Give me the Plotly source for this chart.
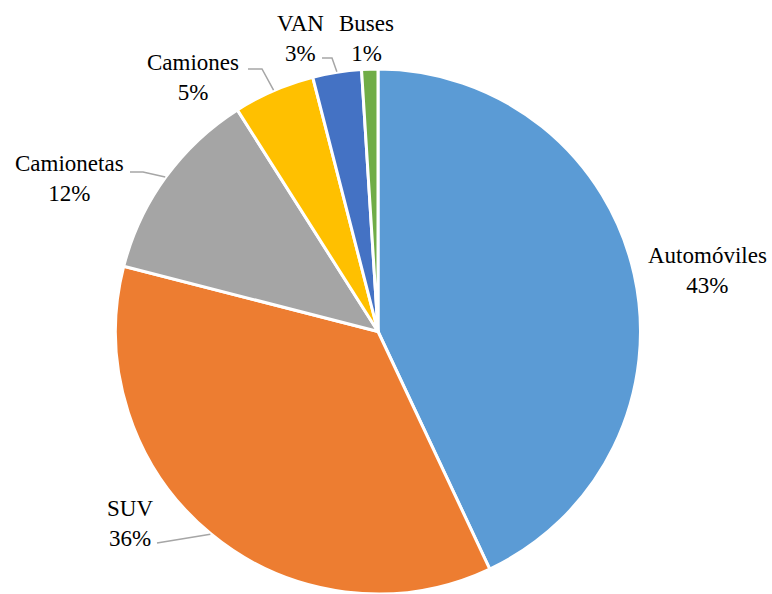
import math
import plotly.graph_objects as go

categories = ["Automóviles", "SUV", "Camionetas", "Camiones", "VAN", "Buses"]
values = [43, 36, 12, 5, 3, 1]
colors = ["#5B9BD5", "#ED7D31", "#A5A5A5", "#FFC000", "#4472C4", "#70AD47"]

W, H = 772, 594
# pie domain in pixels (left, right, top, bottom)
DX0, DX1, DY0, DY1 = 111, 645, 69, 594
CX = (DX0 + DX1) / 2
CY = (DY0 + DY1) / 2
R = 263

# label centres (px) and leader points (px)
label_pos = [(707, 270), (130, 523), (69, 178), (193, 78), (300, 38), (366, 38)]
leader_start = [None, (157, 543), (130, 172), (248, 69), (322, 58), None]
leader_elbow = [None, None, (143, 172), (262, 69), (332, 58), None]

FONT = "Liberation Serif, Times New Roman, serif"

def px(x):
    return x / W

def py(y):
    return 1 - y / H

fig = go.Figure(go.Pie(
    labels=categories,
    values=values,
    sort=False,
    direction="clockwise",
    rotation=0,
    marker=dict(colors=colors, line=dict(color="white", width=3)),
    textinfo="none",
    hoverinfo="label+percent",
    domain=dict(x=[px(DX0), px(DX1)], y=[py(DY1), py(DY0)]),
    showlegend=False,
))

total = sum(values)
cum = 0
shapes = []
annotations = []
for i, (cat, v) in enumerate(zip(categories, values)):
    mid = (cum + v / 2) / total * 2 * math.pi
    cum += v
    ex = CX + R * math.sin(mid)
    ey = CY - R * math.cos(mid)
    lx, ly = label_pos[i]
    annotations.append(dict(
        x=px(lx), y=py(ly), xref="paper", yref="paper",
        text=f"{cat}<br>{round(v / total * 100)}%",
        showarrow=False, xanchor="center", yanchor="middle",
        font=dict(family=FONT, size=23, color="#000000"),
    ))
    if leader_start[i] is not None:
        pts = [leader_start[i]]
        if leader_elbow[i] is not None:
            pts.append(leader_elbow[i])
        pts.append((ex, ey))
        path = "M " + " L ".join(f"{px(a)},{py(b)}" for a, b in pts)
        shapes.append(dict(type="path", path=path, xref="paper", yref="paper",
                           line=dict(color="#A6A6A6", width=1.5)))

fig.update_layout(
    width=W, height=H,
    margin=dict(l=0, r=0, t=0, b=0),
    paper_bgcolor="white",
    plot_bgcolor="white",
    font=dict(family=FONT, size=23, color="#000000"),
    shapes=shapes,
    annotations=annotations,
)

fig.write_html("out.html", config={"displayModeBar": False},
               post_script="document.body.style.margin='0px';")
